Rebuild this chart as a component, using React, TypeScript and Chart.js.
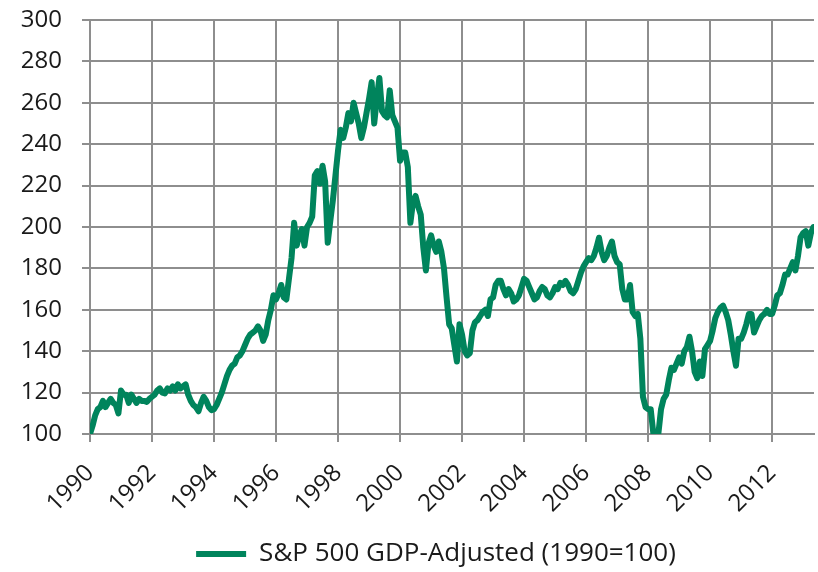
import React, { useEffect, useRef } from 'react';
import { Chart, registerables } from 'chart.js';

Chart.register(...registerables);

// ---- Data (monthly values, Jan 1990 onward; index 1990 = 100) ----
const START_YEAR = 1990;
const X_MAX = 2013.35;
const SERIES_LABEL = 'S&P 500 GDP-Adjusted (1990=100)';
const X_TICK_STEP = 2;
const Y_MIN = 100;
const Y_MAX = 300;
const Y_STEP = 20;

const v1990 = [100, 104, 109, 112, 113, 116, 113, 115, 117, 115, 114, 110];
const v1991 = [121, 119, 119, 115, 119, 117, 115, 117, 116, 116, 115.5, 117];
const v1992 = [118, 119, 121, 122, 120, 119.6, 122, 121, 123, 121, 124, 122];
const v1993 = [123, 124, 119, 116, 114, 113, 111, 115, 118, 116, 113, 111.5];
const v1994 = [112, 114, 117, 120, 124, 128, 131, 133, 134, 137, 138, 140];
const v1995 = [143, 146, 148, 149, 150, 152, 150, 145, 148, 155, 160, 167];
const v1996 = [165, 168, 172, 166, 165, 175, 185, 202, 191, 196, 199, 191];
const v1997 = [200, 202, 205, 225, 227, 221, 229.6, 222, 192.4, 203, 213, 225];
const v1998 = [237, 247, 243, 248, 255, 251, 260, 255, 250, 243, 248, 255];
const v1999 = [262, 270, 250, 262, 272, 256, 254, 253, 266, 254, 251, 248];
const v2000 = [232, 236, 236, 229, 202, 212, 215, 210, 206, 190, 179, 192];
const v2001 = [196, 191, 188, 193, 188, 180, 166, 153, 151, 143, 135, 153];
const v2002 = [148, 140, 138, 139, 150, 154, 155, 157, 159, 160, 157, 165];
const v2003 = [166, 172, 174, 174, 170, 167, 170, 168, 164, 165, 167, 171];
const v2004 = [175, 174, 171, 168, 165, 166, 169, 171, 170, 167, 166, 168];
const v2005 = [171, 170, 173, 172, 174, 172, 169, 168, 170, 174, 178, 181];
const v2006 = [183, 185, 184, 186, 190, 194.8, 188, 184, 186, 190, 193, 186];
const v2007 = [183, 182, 170, 165, 165, 172, 159, 157, 158, 146, 118, 113];
const v2008 = [112, 112, 100.5, 100, 100.5, 112, 117, 119, 126, 132, 131, 134];
const v2009 = [137, 134, 140, 142, 147, 140, 130, 127, 135, 128, 141, 143];
const v2010 = [145, 150, 156, 159, 161, 162, 159, 155, 148, 140, 133, 146];
const v2011 = [146, 149, 153, 158, 158, 149, 152, 155, 157, 158, 160, 158];
const v2012 = [158, 162, 167, 168, 172, 177, 177, 180, 183, 179, 186, 195];
const v2013 = [197, 198, 191, 197, 200];

const monthlyValues = [
  ...v1990, ...v1991, ...v1992, ...v1993, ...v1994, ...v1995, ...v1996, ...v1997,
  ...v1998, ...v1999, ...v2000, ...v2001, ...v2002, ...v2003, ...v2004, ...v2005,
  ...v2006, ...v2007, ...v2008, ...v2009, ...v2010, ...v2011, ...v2012, ...v2013,
];

const LINE_COLOR = '#00845c';
const GRID_COLOR = '#8e8e8e';
const TEXT_COLOR = '#1a1a1a';
const FONT_FAMILY = "'Open Sans', 'Noto Sans', sans-serif";
const LEGEND_LEFT = 58;

const legendShift = {
  id: 'legendShift',
  beforeDraw(chart: any) {
    if (chart.legend) chart.legend.left = LEGEND_LEFT;
  },
};

export default function App() {
  const canvasRef = useRef<HTMLCanvasElement | null>(null);

  useEffect(() => {
    document.body.style.margin = '0';
    const canvas = canvasRef.current;
    if (!canvas) return;
    const points = monthlyValues.map((v, i) => ({ x: START_YEAR + i / 12, y: v }));
    const chart = new Chart(canvas, {
      type: 'line',
      data: {
        datasets: [
          {
            label: SERIES_LABEL,
            data: points,
            borderColor: LINE_COLOR,
            backgroundColor: LINE_COLOR,
            borderWidth: 6,
            pointRadius: 0,
            pointHoverRadius: 0,
            tension: 0,
            fill: false,
            borderJoinStyle: 'round',
            borderCapStyle: 'round',
            pointStyle: 'line',
          },
        ],
      },
      plugins: [legendShift],
      options: {
        animation: false,
        responsive: false,
        devicePixelRatio: 1,
        layout: { padding: { top: 20, right: 4, left: 0, bottom: -5 } },
        font: { family: FONT_FAMILY },
        plugins: {
          legend: {
            position: 'bottom',
            labels: {
              usePointStyle: true,
              pointStyleWidth: 50,
              color: TEXT_COLOR,
              font: { family: FONT_FAMILY, size: 26 },
              padding: 4,
            },
          },
          tooltip: { enabled: false },
        },
        scales: {
          x: {
            type: 'linear',
            min: START_YEAR,
            max: X_MAX,
            afterFit: (scale: any) => {
              scale.height = 103;
            },
            ticks: {
              stepSize: X_TICK_STEP,
              includeBounds: false,
              autoSkip: false,
              maxRotation: 45,
              minRotation: 45,
              color: TEXT_COLOR,
              font: { family: FONT_FAMILY, size: 24 },
              padding: 17,
              callback: (v: any) => String(v),
            },
            grid: { color: GRID_COLOR, lineWidth: 2, tickLength: 8 },
            border: { color: GRID_COLOR, width: 2 },
          },
          y: {
            min: Y_MIN,
            max: Y_MAX,
            afterFit: (scale: any) => {
              scale.width = 90;
              scale.paddingTop = 0;
              scale.paddingBottom = 0;
            },
            ticks: {
              stepSize: Y_STEP,
              color: TEXT_COLOR,
              font: { family: FONT_FAMILY, size: 24 },
              padding: 20,
            },
            grid: { color: GRID_COLOR, lineWidth: 2, tickLength: 8 },
            border: { color: GRID_COLOR, width: 2 },
          },
        },
      },
    } as any);
    return () => chart.destroy();
  }, []);

  return (
    <div style={{ position: 'fixed', left: 0, top: 0, width: 818, height: 572, background: '#fff' }}>
      <canvas ref={canvasRef} width={818} height={572} style={{ display: 'block' }} />
    </div>
  );
}
